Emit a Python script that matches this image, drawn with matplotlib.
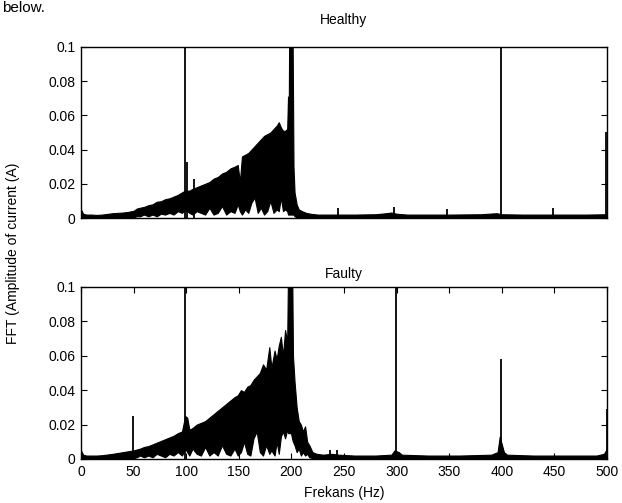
import matplotlib
matplotlib.use('Agg')
import matplotlib.pyplot as plt

plt.rcParams['font.family'] = ['Liberation Sans', 'DejaVu Sans']
plt.rcParams['font.size'] = 10

# ---- data (Hz, amplitude A) ----
healthy_f = [0, 2, 5, 10, 15, 20, 25, 30, 35, 40, 45, 50, 53, 56, 60, 64, 68,
             72, 76, 80, 84, 88, 92, 96, 99, 103, 106, 110, 114, 118, 122, 126,
             130, 134, 138, 142, 146, 149, 151, 153, 156, 159, 162, 165, 168,
             171, 174, 177, 180, 183, 186, 188, 190, 192, 194, 196, 196.8,
             197.4, 198, 201, 202, 203, 205, 207, 210, 214, 218, 225, 240, 260,
             280, 290, 295, 300, 310, 330, 350, 380, 395, 400, 420, 450, 480,
             500]
healthy_hi = [0.005, 0.0025, 0.002, 0.002, 0.0018, 0.002, 0.0024, 0.0028,
              0.003, 0.0032, 0.0036, 0.0042, 0.0055, 0.006, 0.0065, 0.0075,
              0.008, 0.0095, 0.0098, 0.011, 0.0115, 0.0125, 0.0135, 0.015,
              0.016, 0.016, 0.017, 0.018, 0.019, 0.020, 0.021, 0.023, 0.024,
              0.026, 0.027, 0.029, 0.030, 0.031, 0.021, 0.036, 0.037, 0.038,
              0.040, 0.042, 0.044, 0.046, 0.048, 0.049, 0.050, 0.052, 0.054,
              0.056, 0.053, 0.051, 0.051, 0.052, 0.071, 0.05, 0.12, 0.12,
              0.030, 0.015, 0.008, 0.005, 0.004, 0.003, 0.0025, 0.002, 0.002,
              0.002, 0.0022, 0.0028, 0.0032, 0.0025, 0.002, 0.002, 0.002,
              0.0022, 0.0028, 0.0022, 0.002, 0.002, 0.002, 0.0022]
healthy_lo = [0, 0, 0, 0, 0, 0, 0, 0, 0, 0, 0, 0.0005, 0.001, 0.001, 0.002,
              0.001, 0.002, 0.001, 0.0025, 0.002, 0.003, 0.002, 0.004, 0.003,
              0.005, 0.003, 0.002, 0.004, 0.003, 0.002, 0.006, 0.002, 0.003,
              0.007, 0.002, 0.004, 0.003, 0.008, 0.004, 0.002, 0.005, 0.003,
              0.009, 0.012, 0.003, 0.006, 0.002, 0.004, 0.010, 0.003, 0.005,
              0.004, 0.012, 0.004, 0.005, 0.004, 0.002, 0.002, 0.002, 0.002,
              0.002, 0.001, 0.0005, 0, 0, 0, 0, 0, 0, 0, 0, 0, 0, 0, 0, 0, 0,
              0, 0, 0, 0, 0, 0, 0]
healthy_spike_f = [99, 100.5, 107, 244, 298, 348, 399, 449, 499.5]
healthy_spike_a = [0.1, 0.033, 0.023, 0.006, 0.0065, 0.005, 0.1, 0.006, 0.05]

faulty_f = [0, 2, 5, 10, 15, 20, 25, 30, 35, 40, 45, 50, 53, 56, 60, 64, 68,
            72, 76, 80, 84, 88, 92, 96, 99, 101, 103, 106, 110, 114, 118, 122,
            126, 130, 134, 138, 142, 146, 149, 152, 155, 158, 161, 164, 167,
            170, 173, 176, 179, 181, 184, 186, 188, 190, 192, 194, 196, 197,
            198, 198.8, 199.6, 200.6, 201.5, 203, 205, 207, 209, 211, 213, 215,
            217, 220, 224, 230, 238, 245, 260, 280, 295, 298, 302, 305, 330,
            360, 390, 396, 398, 402, 405, 430, 460, 490, 497, 500]
faulty_hi = [0.005, 0.0025, 0.002, 0.002, 0.002, 0.0022, 0.0026, 0.003,
             0.0035, 0.004, 0.0045, 0.005, 0.0055, 0.006, 0.007, 0.0075,
             0.0085, 0.0095, 0.0105, 0.0115, 0.0125, 0.0135, 0.015, 0.016,
             0.025, 0.024, 0.017, 0.018, 0.020, 0.021, 0.022, 0.024, 0.026,
             0.028, 0.030, 0.032, 0.034, 0.036, 0.037, 0.040, 0.039, 0.042,
             0.043, 0.046, 0.048, 0.050, 0.055, 0.052, 0.065, 0.053, 0.063,
             0.058, 0.066, 0.071, 0.060, 0.075, 0.068, 0.12, 0.12, 0.085,
             0.12, 0.12, 0.06, 0.045, 0.03, 0.022, 0.020, 0.016, 0.019, 0.010,
             0.008, 0.004, 0.003, 0.0025, 0.003, 0.0025, 0.002, 0.002,
             0.0025, 0.005, 0.004, 0.0025, 0.002, 0.002, 0.0025, 0.004, 0.013,
             0.004, 0.0025, 0.002, 0.002, 0.002, 0.003, 0.006]
faulty_lo = [0, 0, 0, 0, 0, 0, 0, 0, 0, 0, 0, 0.0005, 0.001, 0.002, 0.001,
             0.002, 0.001, 0.003, 0.002, 0.001, 0.003, 0.002, 0.004, 0.002,
             0.006, 0.004, 0.002, 0.006, 0.003, 0.002, 0.007, 0.002, 0.004,
             0.002, 0.008, 0.003, 0.002, 0.006, 0.002, 0.004, 0.010, 0.003,
             0.002, 0.012, 0.016, 0.004, 0.002, 0.008, 0.003, 0.005, 0.002,
             0.010, 0.003, 0.013, 0.016, 0.012, 0.017, 0.015, 0.015, 0.015,
             0.015, 0.012, 0.010, 0.008, 0.004, 0.006, 0.002, 0.004, 0.002,
             0.003, 0.001, 0.0005, 0, 0, 0, 0, 0, 0, 0, 0, 0, 0, 0, 0, 0, 0,
             0, 0, 0, 0, 0, 0, 0, 0]
faulty_spike_f = [49, 99, 237, 243, 299, 399, 500]
faulty_spike_a = [0.025, 0.1, 0.005, 0.005, 0.1, 0.058, 0.029]

yticks = [0, 0.02, 0.04, 0.06, 0.08, 0.1]
ytick_labels = ['0', '0.02', '0.04', '0.06', '0.08', '0.1']
xticks = [0, 50, 100, 150, 200, 250, 300, 350, 400, 450, 500]


def draw_panel(ax, f, hi, lo, sf, sa):
    ax.fill_between(f, lo, hi, color='black', linewidth=0.8, edgecolor='black')
    ax.vlines(sf, 0, sa, color='black', linewidth=1.3)
    ax.set_xlim(0, 500)
    ax.set_ylim(0, 0.1)
    ax.set_yticks(yticks)
    ax.set_yticklabels(ytick_labels)
    ax.tick_params(direction='in', length=4, width=0.8, top=True, right=True,
                   pad=4, labelsize=10)
    for s in ax.spines.values():
        s.set_linewidth(1.0)


fig = plt.figure(figsize=(6.22, 5.03), dpi=100)
ax1 = fig.add_axes([0.1302, 0.5666, 0.8457, 0.3400])
ax2 = fig.add_axes([0.1302, 0.0875, 0.8457, 0.3420])

draw_panel(ax1, healthy_f, healthy_hi, healthy_lo, healthy_spike_f, healthy_spike_a)
ax1.set_xticks([])

draw_panel(ax2, faulty_f, faulty_hi, faulty_lo, faulty_spike_f, faulty_spike_a)
ax2.set_xticks(xticks)

fig.text(0.553, 0.960, 'Healthy', ha='center', va='center', fontsize=10)
fig.text(0.553, 0.455, 'Faulty', ha='center', va='center', fontsize=10)
fig.text(0.553, 0.020, 'Frekans (Hz)', ha='center', va='center', fontsize=10)
fig.text(0.021, 0.497, 'FFT (Amplitude of current (A)', ha='center',
         va='center', rotation=90, fontsize=10)
# caption fragment at the top edge of the source image
fig.text(0.003, 0.999, 'below.', ha='left', va='top', fontsize=11)

fig.savefig('out.png', dpi=100)
